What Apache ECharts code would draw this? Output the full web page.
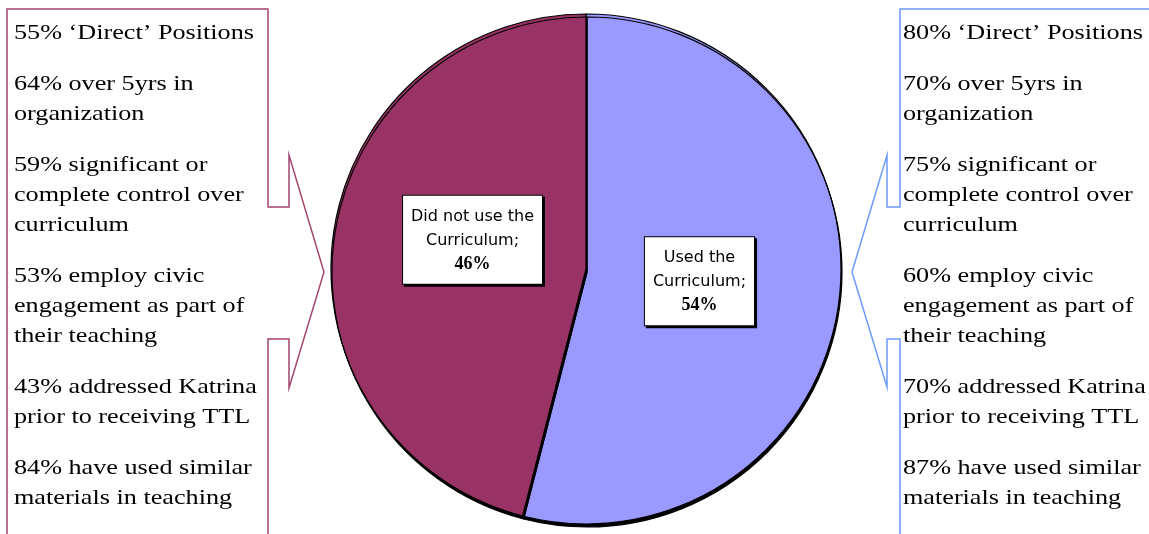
<!DOCTYPE html>
<html><head><meta charset="utf-8">
<script src="https://cdn.jsdelivr.net/npm/echarts@6/dist/echarts.min.js"></script>
<style>html,body{margin:0;padding:0;background:#fff}#c{width:1149px;height:534px}</style>
</head><body><div id="c"></div>
<script>
const categories = ['Used the\nCurriculum;', 'Did not use the\nCurriculum;'];
const values = [54, 46];
const leftNotes = [
  "55% \u2018Direct\u2019 Positions",
  "64% over 5yrs in\norganization",
  "59% significant or\ncomplete control over\ncurriculum",
  "53% employ civic\nengagement as part of\ntheir teaching",
  "43% addressed Katrina\nprior to receiving TTL",
  "84% have used similar\nmaterials in teaching"
];
const rightNotes = [
  "80% \u2018Direct\u2019 Positions",
  "70% over 5yrs in\norganization",
  "75% significant or\ncomplete control over\ncurriculum",
  "60% employ civic\nengagement as part of\ntheir teaching",
  "70% addressed Katrina\nprior to receiving TTL",
  "87% have used similar\nmaterials in teaching"
];

const chart = echarts.init(document.getElementById('c'));
const LH = 30, GAP = 21, FONT = '22px "Liberation Serif", "Times New Roman", serif';
function notes(list, x) {
  const out = [];
  let y = 18;
  list.forEach(t => {
    const n = t.split('\n').length;
    out.push({type:'text', x:x, y:y, scaleX:1.19, z:10,
      style:{text:t, x:0, y:0, verticalAlign:'top', font:FONT, fill:'#000', lineHeight:LH}});
    y += n*LH + GAP;
  });
  return out;
}
const leftShape = [[7,600],[7,9],[268,9],[268,207],[289,207],[289,155],[324,272],[289,388],[289,339],[268,339],[268,600]];
const rightShape = [[1160,9],[900,9],[900,207],[887,207],[887,155],[852,272],[887,387],[887,339],[900,339],[900,600]];

const graphic = [
  {type:'polyline', shape:{points:leftShape}, style:{stroke:'#A3456F', lineWidth:1.5, fill:null}, z:5},
  {type:'polyline', shape:{points:rightShape}, style:{stroke:'#6E9BFF', lineWidth:1.5, fill:null}, z:5}
].concat(notes(leftNotes, 14), notes(rightNotes, 903));

const colors = ['#9999FF', '#993366'];
const offsets = [[-16,-4],[16,-13]];
const paddings = [[8,8,8,8],[9,8,7,8]];
chart.setOption({
  animation:false,
  graphic: graphic,
  series:[{
    type:'pie',
    center:[586,269],
    radius:255,
    startAngle:90,
    clockwise:true,
    silent:true,
    itemStyle:{borderColor:'#000', borderWidth:1.2, shadowColor:'rgba(0,0,0,1)', shadowOffsetX:1, shadowOffsetY:3, shadowBlur:0},
    labelLine:{show:false},
    data: categories.map((c,i)=>({
      name:c, value:values[i],
      itemStyle:{color:colors[i]},
      label:{
        show:true, position:'inside', offset:offsets[i],
        formatter:'{n|{b}}\n{v|{c}%}',
        backgroundColor:'#fff', borderColor:'#000', borderWidth:1,
        shadowColor:'#000', shadowOffsetX:2, shadowOffsetY:2, shadowBlur:0,
        padding:paddings[i],
        rich:{
          n:{fontFamily:'"DejaVu Sans", Arial, sans-serif', fontSize:16, lineHeight:24, color:'#000', align:'center'},
          v:{fontFamily:'"Liberation Serif", "Times New Roman", serif', fontSize:18, fontWeight:'bold', lineHeight:24, color:'#000', align:'center'}
        }
      }
    }))
  }]
});
</script></body></html>
